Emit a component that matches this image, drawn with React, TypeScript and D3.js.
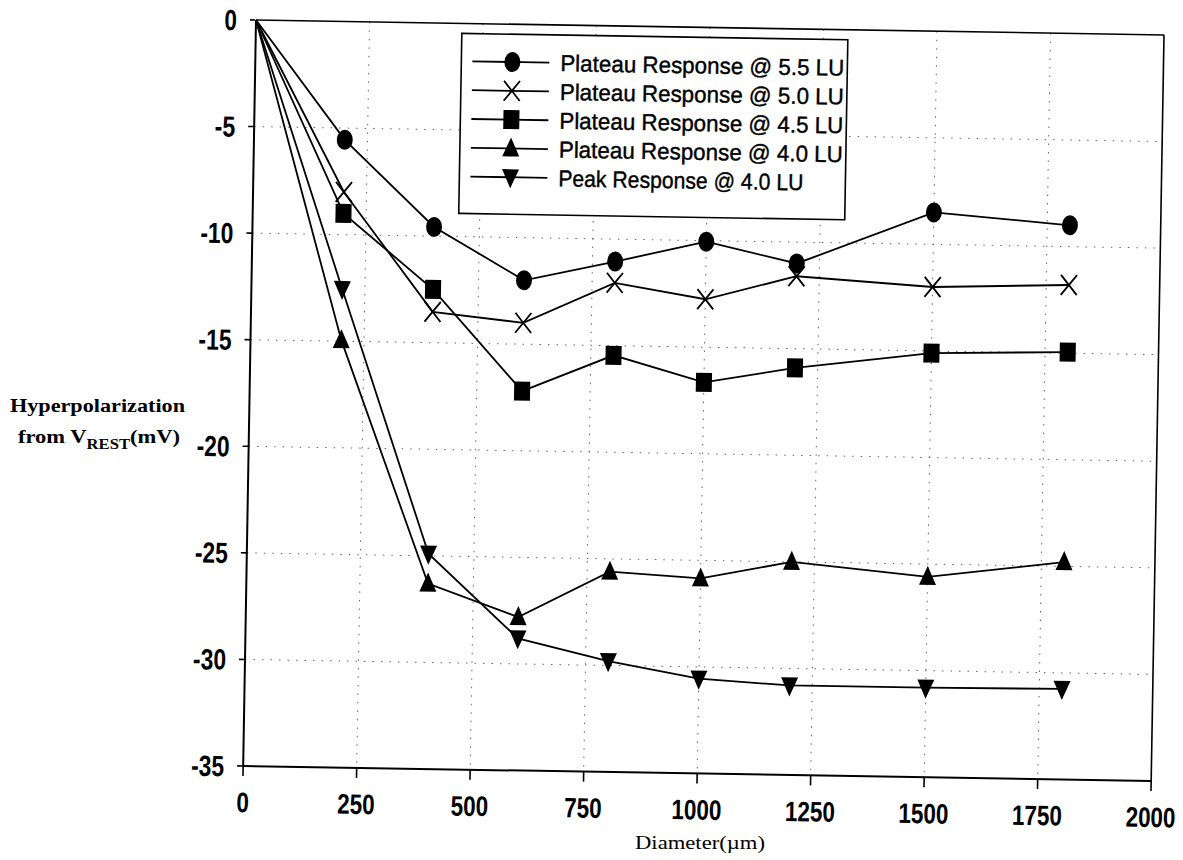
import React from "react";
import * as d3 from "d3";

const diameters = [0, 200, 400, 600, 800, 1000, 1200, 1500, 1800];
const plateau55 = [0, -5.55, -9.57, -12.0, -11.05, -10.05, -11.0, -8.5, -9.0];
const plateau50 = [0, -8.0, -13.55, -14.0, -12.05, -12.75, -11.6, -12.0, -11.8];
const plateau45 = [0, -9.0, -12.5, -17.2, -15.45, -16.65, -15.9, -15.1, -14.95];
const plateau40 = [0, -14.95, -26.3, -27.8, -25.6, -25.85, -25.0, -25.6, -24.8];
const peak40 = [0, -12.55, -24.9, -28.8, -29.8, -30.55, -30.8, -30.8, -30.75];

const seriesNames = [
  "Plateau Response @ 5.5 LU",
  "Plateau Response @ 5.0 LU",
  "Plateau Response @ 4.5 LU",
  "Plateau Response @ 4.0 LU",
  "Peak Response @ 4.0 LU",
];
const seriesValues = [plateau55, plateau50, plateau45, plateau40, peak40];
const markerTypes = ["circle", "cross", "square", "triangleUp", "triangleDown"];

const xTicks = [0, 250, 500, 750, 1000, 1250, 1500, 1750, 2000];
const yTicks = [0, -5, -10, -15, -20, -25, -30, -35];

const W = 1183;
const H = 860;
const PW = 908;
const PH = 746;
const x = d3.scaleLinear().domain([0, 2000]).range([0, PW]);
const y = d3.scaleLinear().domain([-35, 0]).range([PH, 0]);

const sans = "'Liberation Sans', Arial, sans-serif";
const serif = "'Liberation Serif', 'Times New Roman', serif";

function Marker({ type, cx, cy }: { type: string; cx: number; cy: number }) {
  if (type === "circle") return <ellipse cx={cx} cy={cy} rx={8} ry={10} fill="#000" />;
  if (type === "square") return <rect x={cx - 8} y={cy - 9.5} width={16} height={19} fill="#000" />;
  if (type === "cross")
    return (
      <path
        d={`M${cx - 8},${cy - 10}L${cx + 8},${cy + 10}M${cx - 8},${cy + 10}L${cx + 8},${cy - 10}`}
        stroke="#000"
        strokeWidth={1.8}
      />
    );
  if (type === "triangleUp")
    return <path d={`M${cx},${cy - 11}L${cx + 8.5},${cy + 8}L${cx - 8.5},${cy + 8}Z`} fill="#000" />;
  return <path d={`M${cx},${cy + 11}L${cx + 8.5},${cy - 8}L${cx - 8.5},${cy - 8}Z`} fill="#000" />;
}

function labelLen(t: number) {
  const s = String(t);
  let w = 0;
  for (const ch of s) w += ch === "-" ? 8 : 12.5;
  return w;
}

export default function App() {
  const line = d3
    .line<[number, number]>()
    .x((d) => x(d[0]))
    .y((d) => y(d[1]));

  const lgX = 206;
  const lgY = 10;
  const lgW = 386;
  const lgH = 180;
  const row0 = 37.8;
  const rowH = 28.8;

  return (
    <svg
      width={W}
      height={H}
      style={{ position: "absolute", left: 0, top: 0, background: "#fff" }}
    >
      <g transform="matrix(1,0.0165,-0.0172,1,256,20)">
        {/* grid */}
        {xTicks.slice(1, -1).map((t) => (
          <line key={"gx" + t} x1={x(t)} x2={x(t)} y1={0} y2={PH} stroke="#666" strokeWidth={1} strokeDasharray="1.5,7" />
        ))}
        {yTicks.slice(1, -1).map((t) => (
          <line key={"gy" + t} x1={0} x2={PW} y1={y(t)} y2={y(t)} stroke="#666" strokeWidth={1} strokeDasharray="1.5,7" />
        ))}
        {/* frame */}
        <line x1={0} x2={PW} y1={0} y2={0} stroke="#000" strokeWidth={1.6} />
        <line x1={PW} x2={PW} y1={0} y2={PH} stroke="#000" strokeWidth={1.6} />
        <line x1={0} x2={0} y1={0} y2={PH} stroke="#000" strokeWidth={2} />
        <line x1={0} x2={PW} y1={PH} y2={PH} stroke="#000" strokeWidth={2} />
        {/* y ticks */}
        {yTicks.map((t) => (
          <g key={"yt" + t}>
            <line x1={-6} x2={0} y1={y(t)} y2={y(t)} stroke="#000" strokeWidth={1.6} />
            <text
              x={-19}
              y={y(t)}
              dy="0.36em"
              textAnchor="end"
              fontFamily={sans}
              fontWeight="bold"
              fontSize={29}
              textLength={labelLen(t)}
              lengthAdjust="spacingAndGlyphs"
            >
              {t}
            </text>
          </g>
        ))}
        {/* x ticks */}
        {xTicks.map((t) => (
          <g key={"xt" + t}>
            <line x1={x(t)} x2={x(t)} y1={PH} y2={PH + 10} stroke="#000" strokeWidth={1.6} />
            <text
              x={x(t)}
              y={PH + 46}
              textAnchor="middle"
              fontFamily={sans}
              fontWeight="bold"
              fontSize={28}
              textLength={labelLen(t)}
              lengthAdjust="spacingAndGlyphs"
            >
              {t}
            </text>
          </g>
        ))}
        {/* series */}
        {seriesValues.map((vals, i) => {
          const pts: [number, number][] = diameters.map((d, j) => [d, vals[j]]);
          return (
            <g key={"s" + i}>
              <path d={line(pts) || ""} fill="none" stroke="#000" strokeWidth={1.8} />
              {pts.slice(1).map((p, j) => (
                <Marker key={j} type={markerTypes[i]} cx={x(p[0])} cy={y(p[1])} />
              ))}
            </g>
          );
        })}
        {/* legend */}
        <rect x={lgX} y={lgY} width={lgW} height={lgH} fill="#fff" stroke="#000" strokeWidth={1.6} />
        {seriesNames.map((name, i) => {
          const cy = row0 + i * rowH;
          return (
            <g key={"l" + i}>
              <line x1={217} x2={294} y1={cy} y2={cy} stroke="#000" strokeWidth={1.8} />
              <Marker type={markerTypes[i]} cx={257} cy={cy} />
              <text
                x={305}
                y={cy}
                dy="0.36em"
                fontFamily={sans}
                fontSize={23}
                stroke="#000"
                strokeWidth={0.4}
                textLength={i === 4 ? 245 : 284}
                lengthAdjust="spacingAndGlyphs"
              >
                {name}
              </text>
            </g>
          );
        })}
      </g>
      {/* axis titles */}
      <text x={10} y={412} fontFamily={serif} fontWeight="bold" fontSize={19} textLength={175} lengthAdjust="spacingAndGlyphs">
        Hyperpolarization
      </text>
      <text x={18} y={443} fontFamily={serif} fontWeight="bold" fontSize={19} textLength={162} lengthAdjust="spacingAndGlyphs">
        from V<tspan fontSize={14} dy={6}>REST</tspan>
        <tspan dy={-6}>(mV)</tspan>
      </text>
      <text x={700} y={849} textAnchor="middle" fontFamily={serif} fontSize={19} textLength={130} lengthAdjust="spacingAndGlyphs">
        Diameter(µm)
      </text>
    </svg>
  );
}
